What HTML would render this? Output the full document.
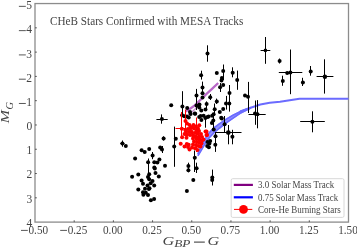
<!DOCTYPE html>
<html><head><meta charset="utf-8"><style>
html,body{margin:0;padding:0;background:#fff;}
svg{display:block;will-change:transform;}
text{font-family:"Liberation Serif",serif;fill:#454545;}
.tl text{font-size:11.5px;}
.ttl{font-size:12.2px;}
.lg text{font-size:9.8px;}
.xlab{font-size:13px;font-style:italic;}
.ylab{font-size:11.8px;font-style:italic;}
.xsub{font-size:9.5px;font-style:italic;}
.ysub{font-size:9.5px;font-style:italic;}
</style></head><body>
<svg width="357" height="249" viewBox="0 0 357 249">
<rect x="35.0" y="3.55" width="313.5" height="218.54999999999998" fill="none" stroke="#8c8c8c" stroke-width="1.3"/>
<path d="M74.19 222.1v-1.8M113.38 222.1v-1.8M152.56 222.1v-1.8M191.75 222.1v-1.8M230.94 222.1v-1.8M270.12 222.1v-1.8M309.31 222.1v-1.8M35.0 27.83h1.8M35.0 52.12h1.8M35.0 76.40h1.8M35.0 100.68h1.8M35.0 124.97h1.8M35.0 149.25h1.8M35.0 173.53h1.8M35.0 197.82h1.8" stroke="#555" stroke-width="1"/>
<g class="tl"><text x="28.50" y="234.1" textLength="19.6" lengthAdjust="spacingAndGlyphs">0.50</text><text x="67.69" y="234.1" textLength="19.6" lengthAdjust="spacingAndGlyphs">0.25</text><text x="103.02" y="234.1" textLength="19.6" lengthAdjust="spacingAndGlyphs">0.00</text><text x="142.21" y="234.1" textLength="19.6" lengthAdjust="spacingAndGlyphs">0.25</text><text x="181.40" y="234.1" textLength="19.6" lengthAdjust="spacingAndGlyphs">0.50</text><text x="220.59" y="234.1" textLength="19.6" lengthAdjust="spacingAndGlyphs">0.75</text><text x="259.78" y="234.1" textLength="19.6" lengthAdjust="spacingAndGlyphs">1.00</text><text x="298.96" y="234.1" textLength="19.6" lengthAdjust="spacingAndGlyphs">1.25</text><text x="338.15" y="234.1" textLength="19.6" lengthAdjust="spacingAndGlyphs">1.50</text><text x="32.1" y="9.15" text-anchor="end">5</text><text x="32.1" y="33.43" text-anchor="end">4</text><text x="32.1" y="57.72" text-anchor="end">3</text><text x="32.1" y="82.00" text-anchor="end">2</text><text x="32.1" y="106.28" text-anchor="end">1</text><text x="32.2" y="129.87" text-anchor="end">0</text><text x="32.2" y="154.15" text-anchor="end">1</text><text x="32.2" y="178.43" text-anchor="end">2</text><text x="32.2" y="202.72" text-anchor="end">3</text><text x="32.2" y="227.00" text-anchor="end">4</text></g>
<path d="M21.00 230.4h6.8M60.19 230.4h6.8M18.9 6.35h6.9M18.9 30.63h6.9M18.9 54.92h6.9M18.9 79.20h6.9M18.9 103.48h6.9" stroke="#3a3a3a" stroke-width="0.85"/>
<polyline points="185.5,111.5 190,108.8 194,106.0 198,102.2 202.5,98.0 206,94.4 212,88.9 218.2,83.0" fill="none" stroke="#b968c8" stroke-width="2.3" stroke-linejoin="round"/>
<polyline points="188,115.3 193,111 198,106.3" fill="none" stroke="#c890d0" stroke-width="1.5" stroke-linejoin="round"/>
<polygon points="197.8,153.4 199,150.1 201.5,144.9 205,138.3 209,132.2 214,127.10000000000001 219,123.3 226,118.60000000000001 233,114.5 240,111.0 250.7,106.8 250.7,108.8 240,114.19999999999999 233,118.9 226,123.8 219,129.3 214,133.5 209,138.8 205,144.7 201.5,150.70000000000002 199,154.9 197.8,156.6" fill="#9494ff" stroke="none"/>
<polyline points="197.8,154.20000000000002 199,150.9 201.5,145.70000000000002 205,139.10000000000002 209,133.0 214,127.9 219,124.1 226,119.4 233,115.3 240,111.8 250.7,107.6" fill="none" stroke="#6b6bff" stroke-width="1.6" stroke-linejoin="round"/>
<polyline points="197.8,155.79999999999998 199,154.1 201.5,149.9 205,143.89999999999998 209,138.0 214,132.7 219,128.5 226,123.0 233,118.10000000000001 240,113.39999999999999 250.7,108.0" fill="none" stroke="#6b6bff" stroke-width="1.6" stroke-linejoin="round"/>
<polyline points="240,111.5 250.7,107.8 260.3,104.5 269.8,102.7 280,101.8 299.5,98.8 348.5,98.8" fill="none" stroke="#6b6bff" stroke-width="2.0" stroke-linejoin="round"/>
<path d="M207.5 45.3V61.7M265.5 37.0V63.8M260.6 50.5H270.3M279.5 58.5V63.5M290.5 49.5V94.2M278.8 72.5H302.3M282.5 75.7V85.8M310.5 66.0V75.7M302.5 77.8V86.0M324.5 59.3V93.6M316.6 76.5H333.4M312.5 111.3V132.3M300.2 121.5H324.8M223.5 64.5V80.0M220.5 83.0V92.0M232.5 67.3V77.3M237.5 70.6V89.8M229.5 85.0V101.0M248.5 81.9V113.0M216.5 98.6V104.0M226.5 95.9V109.6M229.5 98.0V111.6M201.5 70.7V79.6M202.5 81.6V93.0M196.5 88.9V110.0M210.5 94.0V100.0M182.5 91.2V116.0M206.5 101.4V111.0M214.5 103.5V115.0M255.5 100.5V124.8M257.5 100.1V128.3M248.5 114.5H265.7M205.5 118.0V127.7M213.5 116.0V128.0M213.5 123.4V131.0M215.5 132.7V151.5M224.5 116.0V133.0M228.5 125.0V144.3M215.0 132.5H241.5M232.5 129.8V144.3M215.5 140.0V151.8M174.5 126.6V166.8M161.5 114.4V123.7M156.4 119.5H167.7M194.5 150.5V172.0M196.5 162.7V173.0M188.5 162.7V172.3M212.5 169.6V185.5M122.5 140.5V146.7M120.3 143.5H124.5M162.5 146.0V153.0M163.5 136.3V140.5M162.0 138.5H165.2M152.5 152.0V159.2M148.5 158.5V175.0" stroke="#000" stroke-width="1.0" fill="none"/><g fill="#000"><circle cx="207.5" cy="53.6" r="2.0"/><circle cx="265.4" cy="50.4" r="1.8"/><circle cx="279.6" cy="61.0" r="2.0"/><circle cx="290.4" cy="72.6" r="2.0"/><circle cx="287.2" cy="73.0" r="2.0"/><circle cx="282.8" cy="81.0" r="2.0"/><circle cx="310.7" cy="71.5" r="2.0"/><circle cx="302.9" cy="82.4" r="2.0"/><circle cx="324.9" cy="76.8" r="2.2"/><circle cx="312.4" cy="121.8" r="2.0"/><circle cx="216.8" cy="73.1" r="2.0"/><circle cx="223.2" cy="70.9" r="2.0"/><circle cx="221.9" cy="78.0" r="2.0"/><circle cx="221.5" cy="80.6" r="2.0"/><circle cx="223.2" cy="85.0" r="2.0"/><circle cx="220.1" cy="87.2" r="2.0"/><circle cx="232.7" cy="72.8" r="2.0"/><circle cx="237.2" cy="80.0" r="2.0"/><circle cx="229.5" cy="93.0" r="2.0"/><circle cx="245.0" cy="95.6" r="2.0"/><circle cx="248.0" cy="96.8" r="2.0"/><circle cx="216.8" cy="101.4" r="2.0"/><circle cx="226.0" cy="103.5" r="2.0"/><circle cx="229.3" cy="103.6" r="2.0"/><circle cx="201.1" cy="75.2" r="2.0"/><circle cx="202.5" cy="87.4" r="2.0"/><circle cx="202.5" cy="93.2" r="2.0"/><circle cx="202.5" cy="97.6" r="2.0"/><circle cx="196.5" cy="95.6" r="2.0"/><circle cx="210.2" cy="97.3" r="2.0"/><circle cx="187.2" cy="108.0" r="2.0"/><circle cx="182.4" cy="106.4" r="2.0"/><circle cx="196.5" cy="105.6" r="2.0"/><circle cx="199.5" cy="104.4" r="2.0"/><circle cx="206.6" cy="104.1" r="2.0"/><circle cx="199.3" cy="107.5" r="2.0"/><circle cx="201.3" cy="110.4" r="2.0"/><circle cx="205.5" cy="109.6" r="2.0"/><circle cx="190.0" cy="112.0" r="2.0"/><circle cx="194.8" cy="113.6" r="2.0"/><circle cx="214.7" cy="109.3" r="2.0"/><circle cx="219.8" cy="112.0" r="2.0"/><circle cx="223.2" cy="108.9" r="2.0"/><circle cx="213.6" cy="114.3" r="2.0"/><circle cx="200.7" cy="116.1" r="2.0"/><circle cx="203.6" cy="115.8" r="2.0"/><circle cx="207.5" cy="117.0" r="2.0"/><circle cx="221.2" cy="117.7" r="2.0"/><circle cx="255.0" cy="113.5" r="2.0"/><circle cx="257.5" cy="114.3" r="2.0"/><circle cx="201.4" cy="120.1" r="2.0"/><circle cx="205.4" cy="118.0" r="2.0"/><circle cx="208.6" cy="116.5" r="2.0"/><circle cx="212.2" cy="115.8" r="2.0"/><circle cx="213.3" cy="120.5" r="2.0"/><circle cx="211.9" cy="123.0" r="2.0"/><circle cx="213.7" cy="129.5" r="2.0"/><circle cx="215.5" cy="136.2" r="2.0"/><circle cx="221.8" cy="118.4" r="2.0"/><circle cx="224.6" cy="124.3" r="2.0"/><circle cx="228.3" cy="132.6" r="2.4"/><circle cx="232.4" cy="136.7" r="2.0"/><circle cx="210.2" cy="140.9" r="2.0"/><circle cx="207.5" cy="141.9" r="2.0"/><circle cx="209.4" cy="143.4" r="2.0"/><circle cx="207.2" cy="145.9" r="2.0"/><circle cx="208.9" cy="147.2" r="2.0"/><circle cx="215.3" cy="144.8" r="2.0"/><circle cx="182.1" cy="115.3" r="2.0"/><circle cx="184.3" cy="116.2" r="2.0"/><circle cx="186.8" cy="116.5" r="2.0"/><circle cx="188.7" cy="117.6" r="2.0"/><circle cx="190.6" cy="114.0" r="2.0"/><circle cx="195.2" cy="113.8" r="2.0"/><circle cx="199.2" cy="116.9" r="2.0"/><circle cx="175.8" cy="138.7" r="2.0"/><circle cx="174.2" cy="146.6" r="2.0"/><circle cx="171.2" cy="105.3" r="2.0"/><circle cx="161.9" cy="119.1" r="2.0"/><circle cx="194.8" cy="157.7" r="2.0"/><circle cx="196.6" cy="168.2" r="2.0"/><circle cx="188.4" cy="166.1" r="2.0"/><circle cx="188.4" cy="170.2" r="2.0"/><circle cx="212.3" cy="177.4" r="2.0"/><circle cx="212.2" cy="179.9" r="2.0"/><circle cx="193.3" cy="179.9" r="2.0"/><circle cx="186.9" cy="191.1" r="2.0"/><circle cx="122.4" cy="143.6" r="2.0"/><circle cx="125.8" cy="146.0" r="2.0"/><circle cx="141.6" cy="150.3" r="2.0"/><circle cx="144.7" cy="151.9" r="2.0"/><circle cx="149.2" cy="149.1" r="2.0"/><circle cx="160.2" cy="147.4" r="2.0"/><circle cx="162.0" cy="149.4" r="2.0"/><circle cx="163.6" cy="138.4" r="2.0"/><circle cx="135.1" cy="158.4" r="2.0"/><circle cx="152.6" cy="155.6" r="2.0"/><circle cx="148.1" cy="162.2" r="2.0"/><circle cx="154.3" cy="162.3" r="2.0"/><circle cx="157.4" cy="162.5" r="2.0"/><circle cx="159.4" cy="159.6" r="2.0"/><circle cx="154.3" cy="167.4" r="2.0"/><circle cx="165.0" cy="165.7" r="2.0"/><circle cx="132.1" cy="176.8" r="2.0"/><circle cx="138.3" cy="174.4" r="2.0"/><circle cx="141.6" cy="180.4" r="2.0"/><circle cx="143.0" cy="183.7" r="2.0"/><circle cx="149.2" cy="174.2" r="2.0"/><circle cx="148.0" cy="177.0" r="2.0"/><circle cx="149.2" cy="179.2" r="2.0"/><circle cx="152.5" cy="180.9" r="2.0"/><circle cx="150.6" cy="183.2" r="2.0"/><circle cx="147.5" cy="185.4" r="2.0"/><circle cx="154.2" cy="185.4" r="2.0"/><circle cx="149.5" cy="188.2" r="2.0"/><circle cx="145.0" cy="188.8" r="2.0"/><circle cx="138.3" cy="189.5" r="2.0"/><circle cx="143.0" cy="192.2" r="2.0"/><circle cx="145.8" cy="192.7" r="2.0"/><circle cx="148.0" cy="195.0" r="2.0"/><circle cx="143.4" cy="194.8" r="2.0"/><circle cx="148.9" cy="189.0" r="2.0"/><circle cx="154.8" cy="168.6" r="2.0"/><circle cx="155.5" cy="173.0" r="2.0"/><circle cx="158.8" cy="176.5" r="2.0"/><circle cx="150.9" cy="200.3" r="2.0"/><circle cx="154.1" cy="198.9" r="2.0"/></g>
<path d="M181.5 112.0V137.5M175.5 128.5H185.0M196.5 117.5V152.0M185.5 109.6V136.0" stroke="#ff0000" stroke-width="1.0" fill="none"/><g fill="#ff0000"><circle cx="181.8" cy="128.7" r="2.0"/><circle cx="196.4" cy="131.0" r="2.0"/><circle cx="185.3" cy="130.0" r="2.0"/><circle cx="185.5" cy="121.0" r="2.0"/><circle cx="187.0" cy="123.5" r="2.0"/><circle cx="189.5" cy="125.0" r="2.0"/><circle cx="192.0" cy="127.0" r="2.0"/><circle cx="194.0" cy="128.5" r="2.0"/><circle cx="197.0" cy="130.0" r="2.0"/><circle cx="199.0" cy="131.0" r="2.0"/><circle cx="188.0" cy="129.0" r="2.0"/><circle cx="191.0" cy="131.0" r="2.0"/><circle cx="205.5" cy="131.5" r="2.0"/><circle cx="206.5" cy="135.0" r="2.0"/><circle cx="199.3" cy="125.2" r="2.0"/><circle cx="186.0" cy="131.5" r="2.0"/><circle cx="189.0" cy="132.0" r="2.0"/><circle cx="192.0" cy="132.5" r="2.0"/><circle cx="195.0" cy="133.0" r="2.0"/><circle cx="198.0" cy="133.5" r="2.0"/><circle cx="201.0" cy="134.0" r="2.0"/><circle cx="187.0" cy="134.5" r="2.0"/><circle cx="190.0" cy="135.0" r="2.0"/><circle cx="193.0" cy="135.5" r="2.0"/><circle cx="199.0" cy="136.5" r="2.0"/><circle cx="202.0" cy="137.0" r="2.0"/><circle cx="182.1" cy="137.2" r="2.0"/><circle cx="186.5" cy="137.8" r="2.0"/><circle cx="193.0" cy="138.5" r="2.0"/><circle cx="196.5" cy="139.0" r="2.0"/><circle cx="199.5" cy="139.5" r="2.0"/><circle cx="202.0" cy="140.5" r="2.0"/><circle cx="194.0" cy="141.5" r="2.0"/><circle cx="197.0" cy="142.0" r="2.0"/><circle cx="199.5" cy="142.8" r="2.0"/><circle cx="180.7" cy="143.7" r="2.0"/><circle cx="186.8" cy="144.1" r="2.0"/><circle cx="188.7" cy="144.8" r="2.0"/><circle cx="193.0" cy="144.5" r="2.0"/><circle cx="196.0" cy="145.0" r="2.0"/><circle cx="198.5" cy="146.0" r="2.0"/><circle cx="192.0" cy="147.5" r="2.0"/><circle cx="195.0" cy="148.3" r="2.0"/><circle cx="188.0" cy="147.0" r="2.0"/><circle cx="206.5" cy="131.5" r="2.0"/><circle cx="207.0" cy="135.0" r="2.0"/><circle cx="203.5" cy="139.5" r="2.0"/><circle cx="201.5" cy="143.5" r="2.0"/><circle cx="200.5" cy="146.5" r="2.0"/><circle cx="190.5" cy="128.0" r="2.0"/><circle cx="196.0" cy="126.5" r="2.0"/><circle cx="193.5" cy="125.0" r="2.0"/><circle cx="198.0" cy="128.5" r="2.0"/><circle cx="184.5" cy="134.0" r="2.0"/><circle cx="197.5" cy="150.0" r="2.0"/><circle cx="189.5" cy="149.5" r="2.0"/><circle cx="184.5" cy="146.5" r="2.0"/><circle cx="195.5" cy="136.5" r="2.0"/><circle cx="198.0" cy="137.5" r="2.0"/></g>
<text class="ttl" x="50" y="25.4" textLength="193.3" lengthAdjust="spacingAndGlyphs">CHeB Stars Confirmed with MESA Tracks</text>
<text class="xlab" transform="translate(162.6,244.9) scale(1.25,1)">G</text><text class="xsub" transform="translate(174.2,247.1) scale(1.4,1)">BP</text><path d="M194 242.1H204.8" stroke="#1a1a1a" stroke-width="0.9"/><text class="xlab" transform="translate(207.4,244.9) scale(1.25,1)">G</text>
<g transform="translate(8.6,0) rotate(-90)"><text class="ylab" transform="translate(-123.3,0) scale(1.35,1)">M</text><text class="ysub" transform="translate(-109.5,4.7) scale(1.1,1)">G</text></g>
<rect x="231.2" y="178.7" width="112.8" height="38.7" rx="1.5" fill="#fff" fill-opacity="0.8" stroke="#d8d8d8" stroke-width="1"/>
<path d="M233.8 184.9H252.9" stroke="#800080" stroke-width="2.2"/>
<path d="M233.8 197.3H252.9" stroke="#0000ff" stroke-width="2.2"/>
<path d="M234 209.4H252.3" stroke="#ff0000" stroke-width="1"/>
<circle cx="243.5" cy="209.4" r="4.4" fill="#ff0000"/>
<g class="lg"><text x="258" y="188.1" textLength="76.2" lengthAdjust="spacingAndGlyphs">3.0 Solar Mass Track</text><text x="258" y="200.6" textLength="80.2" lengthAdjust="spacingAndGlyphs">0.75 Solar Mass Track</text><text x="258" y="212.8" textLength="82.8" lengthAdjust="spacingAndGlyphs">Core-He Burning Stars</text></g>
</svg>
</body></html>
